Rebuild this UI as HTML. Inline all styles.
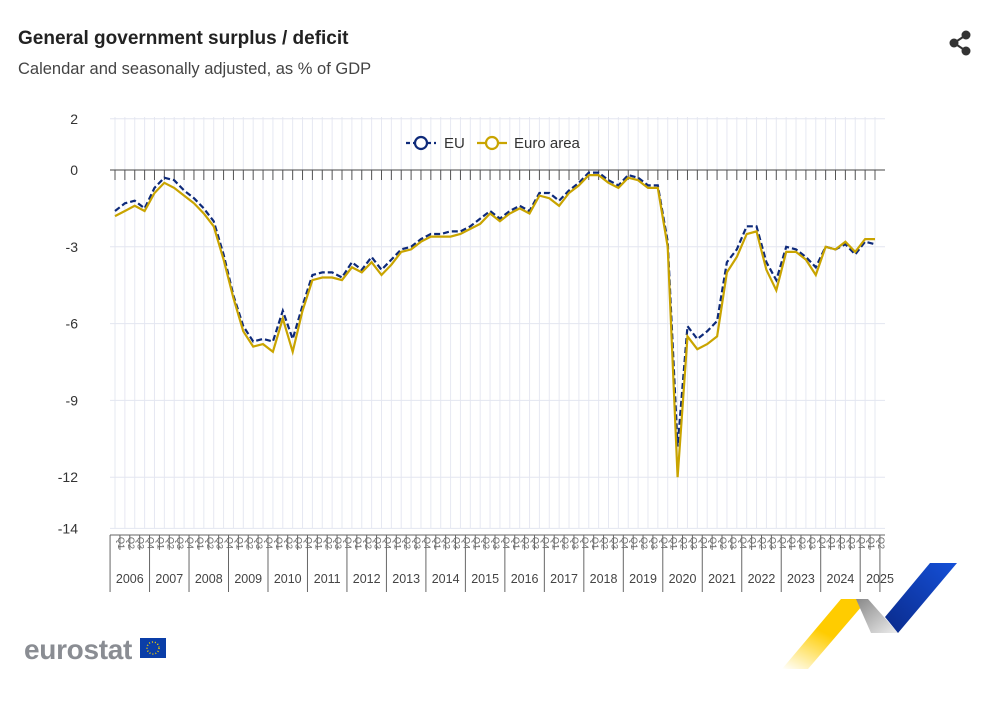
<!DOCTYPE html><html><head><meta charset="utf-8"><style>
body{margin:0;background:#fff;font-family:"Liberation Sans",sans-serif;}
</style></head><body>
<svg id="s" width="1000" height="702" xmlns="http://www.w3.org/2000/svg" font-family="Liberation Sans, sans-serif"></svg>
<script>
const S=document.getElementById('s');let h='';
h+='<text x="18" y="44" font-size="19" font-weight="bold" fill="#222">General government surplus / deficit</text>';
h+='<text x="18" y="74" font-size="16.5" fill="#444">Calendar and seasonally adjusted, as % of GDP</text>';
h+='<g fill="#333"><circle cx="966" cy="35" r="4.5"/><circle cx="954" cy="43" r="4.5"/><circle cx="966" cy="51" r="4.5"/><path d="M966 35L954 43L966 51" stroke="#333" stroke-width="2" fill="none"/></g>';
const x0=110,x1=885,N=78,dx=9.87,qx=i=>115+i*dx;
const Y=v=>170-v*25.6;
for(let i=0;i<N;i++)h+=`<line x1="${qx(i)}" x2="${qx(i)}" y1="117" y2="528" stroke="#e6e8f2" stroke-width="1"/>`;
[2,-3,-6,-9,-12,-14].forEach(v=>{h+=`<line x1="${x0}" x2="${x1}" y1="${Y(v)}" y2="${Y(v)}" stroke="#e3e6f0"/>`});
h+=`<line x1="${x0}" x2="${x1}" y1="${Y(0)}" y2="${Y(0)}" stroke="#444"/>`;
for(let i=0;i<N;i++)h+=`<line x1="${qx(i)}" x2="${qx(i)}" y1="170" y2="180" stroke="#555"/>`;
[2,0,-3,-6,-9,-12,-14].forEach(v=>{h+=`<text x="78" y="${Y(v)+5}" font-size="14" fill="#333" text-anchor="end">${v}</text>`});
h+=`<line x1="110" x2="885" y1="535" y2="535" stroke="#666"/>`;
for(let i=0;i<N;i++){let xl=115+(i-0.5)*dx;let yr=i%4==0;h+=`<line x1="${xl}" x2="${xl}" y1="535" y2="${yr?592:550}" stroke="#666"/>`;
h+=`<text transform="translate(${qx(i)+3},537) rotate(90)" font-size="9" fill="#666">Q${i%4+1}</text>`;}
let xe=115+(N-0.5)*dx;h+=`<line x1="${xe}" x2="${xe}" y1="535" y2="592" stroke="#666"/>`;
for(let y=0;y<20;y++){let c=115+(y*4+1.5)*dx;if(y==19)c=880;h+=`<text x="${c}" y="583" font-size="12.5" fill="#444" text-anchor="middle">${2006+y}</text>`;}
const ea=[-1.8,-1.6,-1.4,-1.6,-0.9,-0.5,-0.7,-1.0,-1.3,-1.7,-2.2,-3.5,-5.0,-6.3,-6.9,-6.8,-7.1,-5.8,-7.1,-5.5,-4.3,-4.2,-4.2,-4.3,-3.8,-4.0,-3.6,-4.1,-3.7,-3.2,-3.1,-2.8,-2.6,-2.6,-2.6,-2.5,-2.3,-2.1,-1.7,-2.0,-1.7,-1.5,-1.7,-1.0,-1.1,-1.4,-0.9,-0.6,-0.2,-0.2,-0.5,-0.7,-0.3,-0.4,-0.7,-0.7,-3.0,-12.0,-6.5,-7.0,-6.8,-6.5,-4.0,-3.4,-2.5,-2.4,-3.9,-4.7,-3.2,-3.2,-3.5,-4.1,-3.0,-3.1,-2.8,-3.2,-2.7,-2.7];
const eu=[-1.6,-1.3,-1.2,-1.5,-0.7,-0.3,-0.4,-0.8,-1.1,-1.5,-2.0,-3.3,-4.9,-6.1,-6.7,-6.6,-6.7,-5.5,-6.6,-5.3,-4.1,-4.0,-4.0,-4.2,-3.6,-3.9,-3.4,-3.9,-3.5,-3.1,-3.0,-2.7,-2.5,-2.5,-2.4,-2.4,-2.2,-1.9,-1.6,-1.9,-1.6,-1.4,-1.6,-0.9,-0.9,-1.2,-0.8,-0.5,-0.1,-0.1,-0.4,-0.6,-0.2,-0.3,-0.6,-0.6,-2.8,-10.8,-6.1,-6.6,-6.3,-5.9,-3.6,-3.1,-2.2,-2.2,-3.6,-4.3,-3.0,-3.1,-3.4,-3.8,-3.0,-3.1,-2.9,-3.3,-2.8,-2.9];
const pts=a=>a.map((v,i)=>qx(i).toFixed(1)+','+Y(v).toFixed(1)).join(' ');
h+=`<polyline points="${pts(eu)}" fill="none" stroke="#0e2a7a" stroke-width="2.2" stroke-dasharray="6,3"/>`;
h+=`<polyline points="${pts(ea)}" fill="none" stroke="#c9a400" stroke-width="2.2"/>`;
h+='<line x1="406" x2="436" y1="143" y2="143" stroke="#0e2a7a" stroke-width="2.2" stroke-dasharray="4,3"/><circle cx="421" cy="143" r="6" fill="#fff" stroke="#0e2a7a" stroke-width="2.2"/><text x="444" y="148" font-size="15" fill="#333">EU</text>';
h+='<line x1="477" x2="507" y1="143" y2="143" stroke="#c9a400" stroke-width="2.2"/><circle cx="492" cy="143" r="6" fill="#fff" stroke="#c9a400" stroke-width="2.2"/><text x="514" y="148" font-size="15" fill="#333">Euro area</text>';
h+='<text x="24" y="659" font-size="28" font-weight="bold" fill="#8a8d93" letter-spacing="-0.3">eurostat</text><rect x="140" y="638" width="26" height="20" fill="#0a3ea8"/><circle cx="153" cy="648" r="6" fill="none" stroke="#f5d000" stroke-width="1.5" stroke-dasharray="1,2"/>';
h+='<defs><linearGradient id="gy" x1="0" y1="1" x2="0.6" y2="0"><stop offset="0" stop-color="#ffd000" stop-opacity="0"/><stop offset="0.6" stop-color="#ffcc00"/></linearGradient><linearGradient id="gb" x1="0" y1="1" x2="1" y2="0"><stop offset="0" stop-color="#0a2a8a"/><stop offset="1" stop-color="#1550d8"/></linearGradient><linearGradient id="gg" x1="0" y1="0" x2="1" y2="1"><stop offset="0" stop-color="#888"/><stop offset="1" stop-color="#eee"/></linearGradient></defs>';
h+='<polygon points="782,669 808,669 868,599 841,599" fill="url(#gy)"/><polygon points="856,599 868,599 898,633 871,633" fill="url(#gg)"/><polygon points="885,617 898,633 957,563 930,563" fill="url(#gb)"/>';
S.innerHTML=h;
</script></body></html>
